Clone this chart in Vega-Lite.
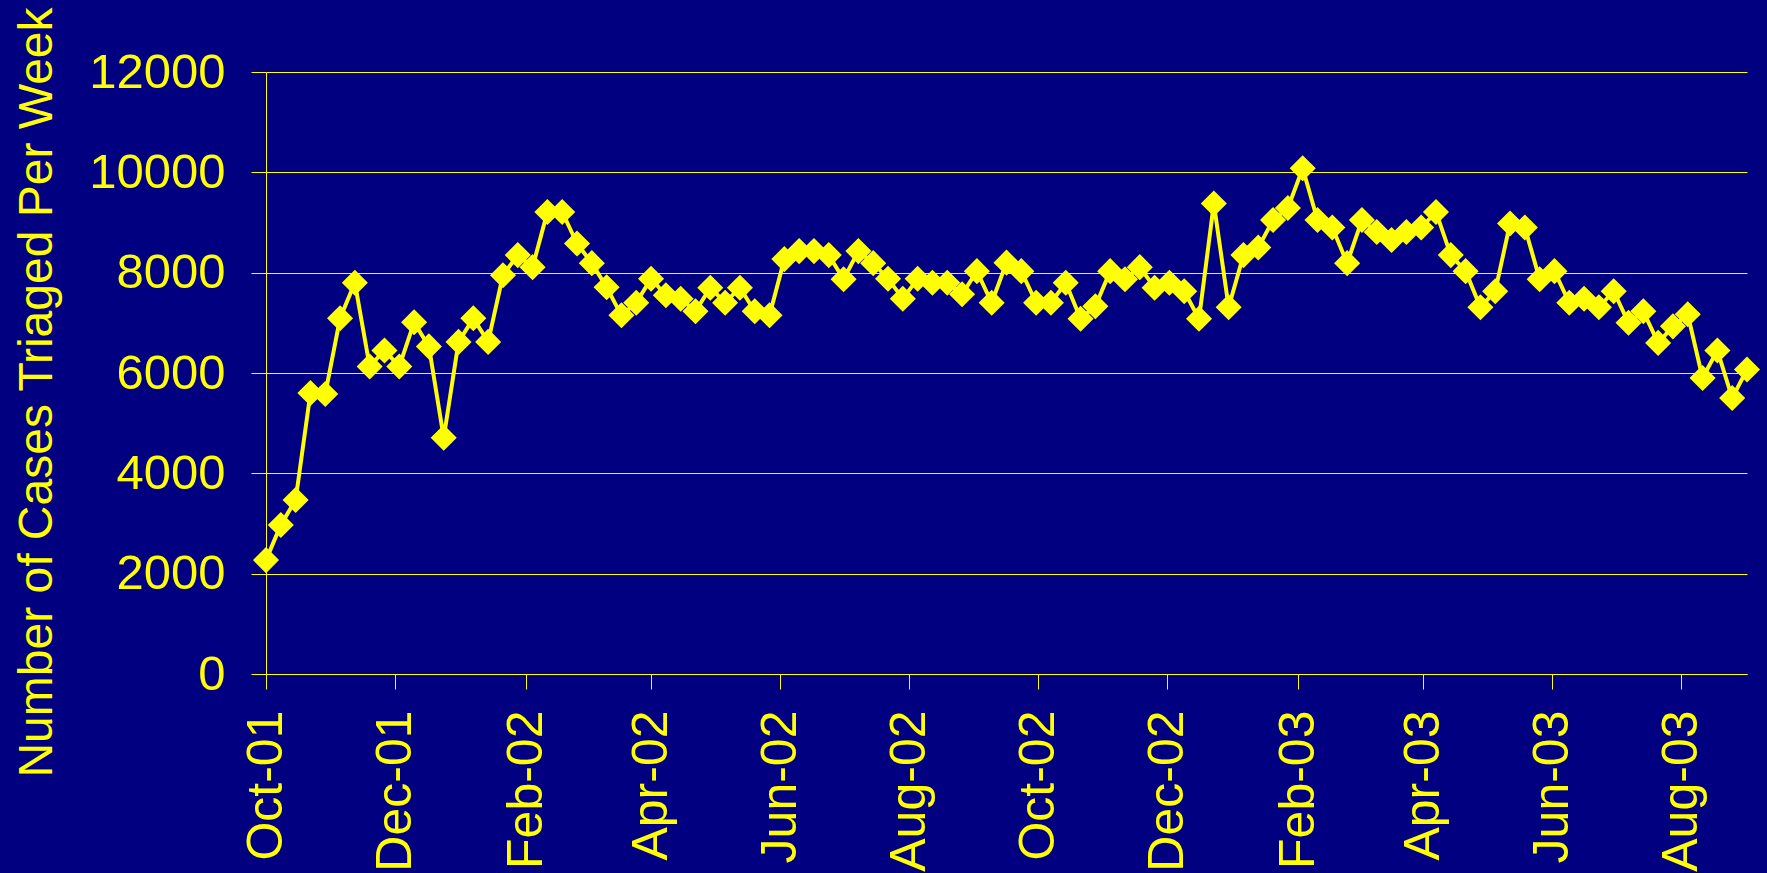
{
  "$schema": "https://vega.github.io/schema/vega-lite/v6.json",
  "width": 1481,
  "height": 602,
  "autosize": {"type": "none"},
  "padding": {"left": 266, "top": 72, "right": 20, "bottom": 199},
  "background": "#000080",
  "config": {"view": {"stroke": null}, "font": "Liberation Sans"},
  "data": {"values": [
    {"week": "2001-10-01", "cases": 2270}, {"week": "2001-10-08", "cases": 2970}, {"week": "2001-10-15", "cases": 3470},
    {"week": "2001-10-22", "cases": 5600}, {"week": "2001-10-29", "cases": 5580}, {"week": "2001-11-05", "cases": 7090},
    {"week": "2001-11-12", "cases": 7800}, {"week": "2001-11-19", "cases": 6130}, {"week": "2001-11-26", "cases": 6450},
    {"week": "2001-12-03", "cases": 6130}, {"week": "2001-12-10", "cases": 7010}, {"week": "2001-12-17", "cases": 6530},
    {"week": "2001-12-24", "cases": 4710}, {"week": "2001-12-31", "cases": 6620}, {"week": "2002-01-07", "cases": 7090},
    {"week": "2002-01-14", "cases": 6620}, {"week": "2002-01-21", "cases": 7950}, {"week": "2002-01-28", "cases": 8350},
    {"week": "2002-02-04", "cases": 8110}, {"week": "2002-02-11", "cases": 9210}, {"week": "2002-02-18", "cases": 9210},
    {"week": "2002-02-25", "cases": 8580}, {"week": "2002-03-04", "cases": 8190}, {"week": "2002-03-11", "cases": 7710},
    {"week": "2002-03-18", "cases": 7150}, {"week": "2002-03-25", "cases": 7400}, {"week": "2002-04-01", "cases": 7880},
    {"week": "2002-04-08", "cases": 7550}, {"week": "2002-04-15", "cases": 7480}, {"week": "2002-04-22", "cases": 7230},
    {"week": "2002-04-29", "cases": 7700}, {"week": "2002-05-06", "cases": 7400}, {"week": "2002-05-13", "cases": 7700},
    {"week": "2002-05-20", "cases": 7230}, {"week": "2002-05-27", "cases": 7150}, {"week": "2002-06-03", "cases": 8270},
    {"week": "2002-06-10", "cases": 8430}, {"week": "2002-06-17", "cases": 8430}, {"week": "2002-06-24", "cases": 8350},
    {"week": "2002-07-01", "cases": 7870}, {"week": "2002-07-08", "cases": 8430}, {"week": "2002-07-15", "cases": 8190},
    {"week": "2002-07-22", "cases": 7880}, {"week": "2002-07-29", "cases": 7480}, {"week": "2002-08-05", "cases": 7880},
    {"week": "2002-08-12", "cases": 7800}, {"week": "2002-08-19", "cases": 7800}, {"week": "2002-08-26", "cases": 7570},
    {"week": "2002-09-02", "cases": 8030}, {"week": "2002-09-09", "cases": 7400}, {"week": "2002-09-16", "cases": 8200},
    {"week": "2002-09-23", "cases": 8030}, {"week": "2002-09-30", "cases": 7400}, {"week": "2002-10-07", "cases": 7400},
    {"week": "2002-10-14", "cases": 7800}, {"week": "2002-10-21", "cases": 7080}, {"week": "2002-10-28", "cases": 7330},
    {"week": "2002-11-04", "cases": 8030}, {"week": "2002-11-11", "cases": 7870}, {"week": "2002-11-18", "cases": 8110},
    {"week": "2002-11-25", "cases": 7700}, {"week": "2002-12-02", "cases": 7800}, {"week": "2002-12-09", "cases": 7630},
    {"week": "2002-12-16", "cases": 7080}, {"week": "2002-12-23", "cases": 9380}, {"week": "2002-12-30", "cases": 7310},
    {"week": "2003-01-06", "cases": 8350}, {"week": "2003-01-13", "cases": 8500}, {"week": "2003-01-20", "cases": 9050},
    {"week": "2003-01-27", "cases": 9290}, {"week": "2003-02-03", "cases": 10080}, {"week": "2003-02-10", "cases": 9050},
    {"week": "2003-02-17", "cases": 8900}, {"week": "2003-02-24", "cases": 8190}, {"week": "2003-03-03", "cases": 9050},
    {"week": "2003-03-10", "cases": 8810}, {"week": "2003-03-17", "cases": 8650}, {"week": "2003-03-24", "cases": 8810},
    {"week": "2003-03-31", "cases": 8900}, {"week": "2003-04-07", "cases": 9210}, {"week": "2003-04-14", "cases": 8350},
    {"week": "2003-04-21", "cases": 8030}, {"week": "2003-04-28", "cases": 7310}, {"week": "2003-05-05", "cases": 7630},
    {"week": "2003-05-12", "cases": 8980}, {"week": "2003-05-19", "cases": 8900}, {"week": "2003-05-26", "cases": 7870},
    {"week": "2003-06-02", "cases": 8030}, {"week": "2003-06-09", "cases": 7400}, {"week": "2003-06-16", "cases": 7480},
    {"week": "2003-06-23", "cases": 7310}, {"week": "2003-06-30", "cases": 7630}, {"week": "2003-07-07", "cases": 7000},
    {"week": "2003-07-14", "cases": 7230}, {"week": "2003-07-21", "cases": 6600}, {"week": "2003-07-28", "cases": 6930},
    {"week": "2003-08-04", "cases": 7170}, {"week": "2003-08-11", "cases": 5900}, {"week": "2003-08-18", "cases": 6450},
    {"week": "2003-08-25", "cases": 5500}, {"week": "2003-09-01", "cases": 6070}
  ]},
  "encoding": {
    "x": {
      "field": "week",
      "type": "temporal",
      "scale": {
        "type": "utc",
        "nice": false,
        "domain": [
          {"year": 2001, "month": 10, "date": 1, "utc": true},
          {"year": 2003, "month": 9, "date": 1, "utc": true}
        ]
      },
      "axis": {
        "title": null,
        "values": [
          {"year": 2001, "month": 10, "date": 1, "utc": true},
          {"year": 2001, "month": 12, "date": 1, "utc": true},
          {"year": 2002, "month": 2, "date": 1, "utc": true},
          {"year": 2002, "month": 4, "date": 1, "utc": true},
          {"year": 2002, "month": 6, "date": 1, "utc": true},
          {"year": 2002, "month": 8, "date": 1, "utc": true},
          {"year": 2002, "month": 10, "date": 1, "utc": true},
          {"year": 2002, "month": 12, "date": 1, "utc": true},
          {"year": 2003, "month": 2, "date": 1, "utc": true},
          {"year": 2003, "month": 4, "date": 1, "utc": true},
          {"year": 2003, "month": 6, "date": 1, "utc": true},
          {"year": 2003, "month": 8, "date": 1, "utc": true}
        ],
        "format": "%b-%y",
        "labelAngle": -90,
        "labelFontSize": 50,
        "labelColor": "#FFFF00",
        "labelFont": "Liberation Sans",
        "labelPadding": 21,
        "labelOverlap": false,
        "labelFlush": false,
        "labelBound": false,
        "tickColor": "#FFFF00",
        "tickSize": 15,
        "tickWidth": 1,
        "domainColor": "#FFFF00",
        "domainWidth": 1,
        "grid": false
      }
    },
    "y": {
      "field": "cases",
      "type": "quantitative",
      "scale": {"domain": [0, 12000], "nice": false, "zero": true},
      "axis": {
        "title": "Number of Cases Triaged Per Week",
        "values": [0, 2000, 4000, 6000, 8000, 10000, 12000],
        "format": "d",
        "labelFontSize": 49,
        "labelColor": "#FFFF00",
        "labelFont": "Liberation Sans",
        "labelPadding": 26,
        "labelOverlap": false,
        "labelFlush": false,
        "tickColor": "#FFFF00",
        "tickSize": 15,
        "tickWidth": 1,
        "domainColor": "#FFFF00",
        "domainWidth": 1,
        "grid": true,
        "gridColor": "#FFFF00",
        "gridWidth": 1,
        "titleFont": "Liberation Sans",
        "titleFontSize": 48,
        "titleFontWeight": "normal",
        "titleColor": "#FFFF00",
        "titleAngle": -90,
        "titleX": -215,
        "titleY": 320,
        "titleAlign": "center",
        "titleBaseline": "alphabetic"
      }
    }
  },
  "layer": [
    {"mark": {"type": "line", "color": "#FFFF00", "strokeWidth": 4}},
    {"mark": {"type": "point", "shape": "diamond", "filled": true, "size": 680, "color": "#FFFF00", "opacity": 1}}
  ]
}
